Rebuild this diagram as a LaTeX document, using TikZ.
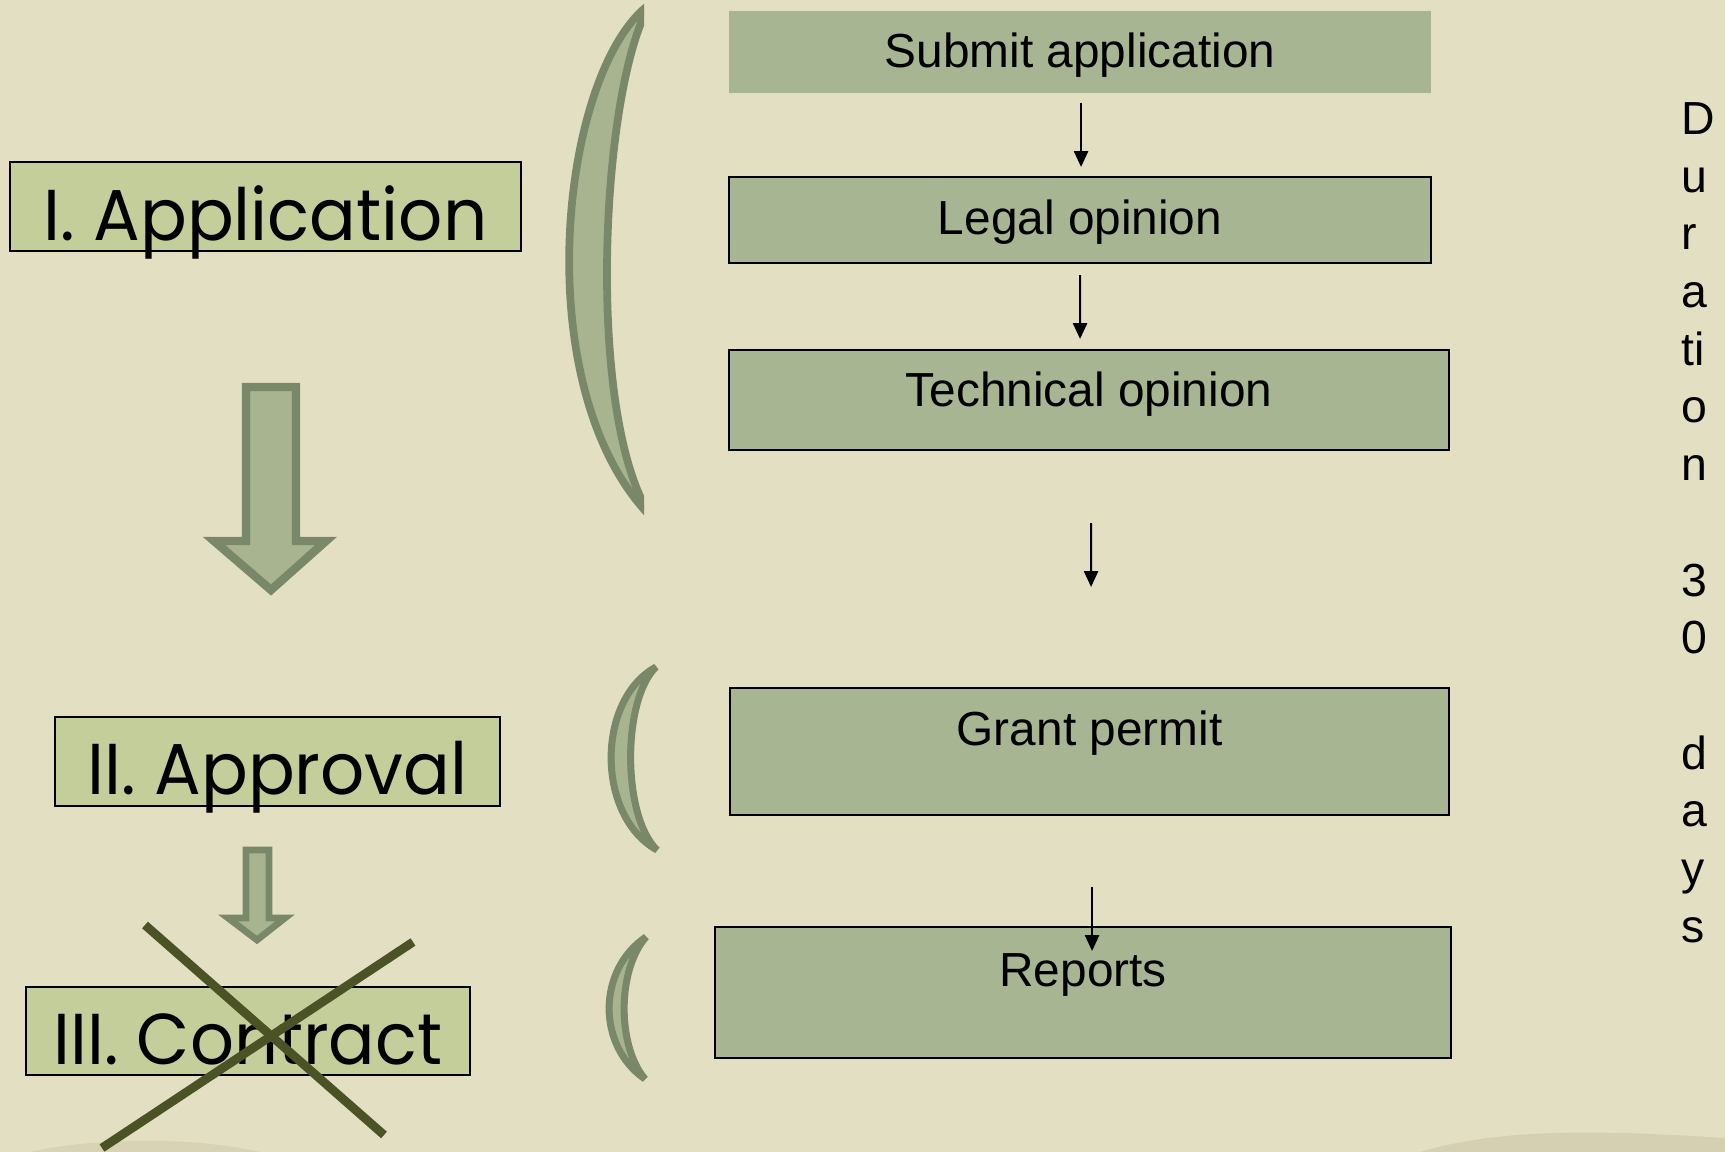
\documentclass[tikz,border=0pt]{standalone}
\usepackage{fontspec}
\setmainfont{Liberation Sans}
\newfontfamily\gothic{Poppins}
\usepackage{graphicx}
\usetikzlibrary{calc,arrows.meta}
\definecolor{bgc}{RGB}{227,223,194}
\definecolor{bgdark}{RGB}{196,191,158}
\definecolor{lgreen}{RGB}{195,206,154}
\definecolor{rgreen}{RGB}{168,181,146}
\definecolor{sfill}{RGB}{167,180,143}
\definecolor{sline}{RGB}{122,136,106}
\definecolor{crossc}{RGB}{75,83,38}
\begin{document}
\begin{tikzpicture}[x=0.1mm,y=-0.1mm,
  lbox/.style={draw=black, line width=0.6pt, fill=lgreen, inner sep=0pt, anchor=north west, font=\gothic\fontsize{20.5}{24}\selectfont},
  rbox/.style={draw=black, line width=0.6pt, fill=rgreen, inner sep=0pt, anchor=north west, font=\fontsize{13.6}{16}\selectfont},
  conn/.style={line width=0.6pt, -{Triangle[length=4.5pt,width=4pt]}},
  blockarrow/.style={fill=sfill, draw=sline, line join=miter},
  crescent/.style={fill=sfill, draw=sline, line width=2.2pt, line join=bevel},
  crossline/.style={draw=crossc, line width=2.5pt}
]
\fill[bgc] (0,0) rectangle (1725,1152);
\useasboundingbox (0,0) rectangle (1725,1152);
% faint paper shading at the bottom edge
\fill[bgdark, opacity=0.45] (1420,1152) .. controls (1500,1128) and (1600,1130) .. (1725,1138) -- (1725,1152) -- cycle;
\fill[bgdark, opacity=0.35] (30,1152) .. controls (90,1138) and (190,1136) .. (260,1152) -- cycle;

% left phase boxes
\node[lbox, minimum width=51.1mm, text height=7.8mm, text depth=1.1mm] (app) at (9,161) {\resizebox{44.4mm}{\height}{I. Application}};
\node[lbox, minimum width=44.5mm, text height=7.7mm, text depth=1.2mm] (appr) at (54,716) {\resizebox{38.0mm}{\height}{II. Approval}};
\node[lbox, minimum width=44.45mm, text height=7.7mm, text depth=1.1mm] (contr) at (24.5,986) {\resizebox{38.9mm}{\height}{III. Contract}};

% block arrows
\draw[blockarrow, line width=2.4pt] (246,387) -- (296,387) -- (296,541) -- (326,541) -- (271,590) -- (214,541) -- (246,541) -- cycle;
\draw[blockarrow, line width=1.9pt] (246,850) -- (269,850) -- (269,918) -- (285,918) -- (257,940) -- (228,918) -- (246,918) -- cycle;

% cross over contract
\draw[crossline] (145,925) -- (384,1135);
\draw[crossline] (413,942) -- (102,1148);

% brackets
\begin{scope}
\clip (0,0) rectangle (644,1152);
\draw[crescent] (650,4) .. controls (560,70) and (525,390) .. (652,518)
  .. controls (585,420) and (600,90) .. cycle;
\end{scope}
\draw[crescent, line width=2pt] (656,667) .. controls (596,700) and (596,816) .. (657,850)
  .. controls (622,816) and (622,700) .. cycle;
\draw[crescent, line width=2pt] (646,937) .. controls (597,970) and (597,1046) .. (645,1079)
  .. controls (617,1046) and (617,970) .. cycle;

% right process boxes
\node[rbox, draw=none, minimum width=70.2mm, text height=5.68mm, text depth=2.52mm] (sub) at (728,10) {Submit application};
\node[rbox, minimum width=70.2mm, text height=5.7mm, text depth=2.9mm] (leg) at (728,176) {Legal opinion};
\node[rbox, minimum width=72mm, text height=5.6mm, text depth=4.4mm] (tech) at (728,349) {Technical opinion};
\node[rbox, minimum width=71.9mm, text height=5.76mm, text depth=6.94mm] (grant) at (729,687) {Grant permit};
\node[rbox, minimum width=73.6mm, text height=5.9mm, text depth=7.2mm] (rep) at (714,926) {Reports};

% connectors
\draw[conn] ($(sub.south)+(1,9)$) -- ($(leg.north)+(1,-9)$);
\draw[conn] ($(leg.south)+(0,11)$) -- ($(tech.north)+(-9,-10)$);
\draw[conn] ($(tech.south)+(2,72)$) -- ($(grant.north)+(1.5,-100)$);
\draw[conn] ($(grant.south)+(2.5,71)$) -- ($(rep.north)+(9,25)$);

% duration text
\node[anchor=north west, inner sep=0pt, align=left, font=\fontsize{13.2}{16.41}\selectfont] (dur) at (1681,102) {D\\u\\r\\a\\ti\\o\\n\\\mbox{}\\3\\0\\\mbox{}\\d\\a\\y\\s};
\end{tikzpicture}
\end{document}
